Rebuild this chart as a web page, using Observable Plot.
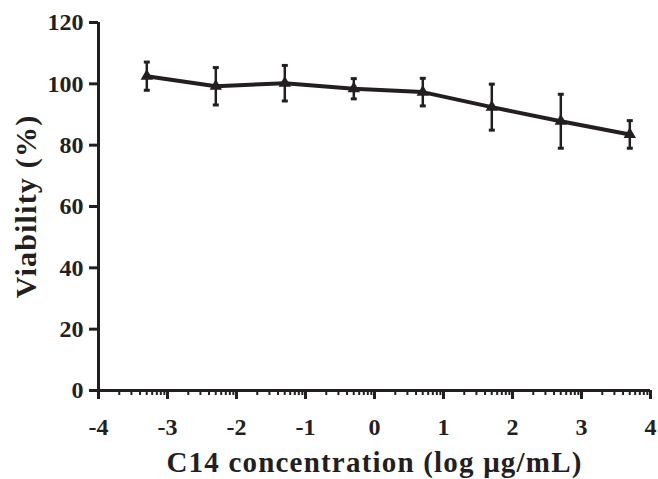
<!DOCTYPE html>
<html>
<head>
<meta charset="utf-8">
<script src="https://cdn.jsdelivr.net/npm/d3@7"></script>
<script src="https://cdn.jsdelivr.net/npm/@observablehq/plot@0.6"></script>
<style>
  html, body { margin: 0; padding: 0; background: #fff; }
</style>
</head>
<body>
<div id="chart"></div>
<script>
// log10 concentration (µg/mL)
const logConc = [-3.3, -2.3, -1.3, -0.3, 0.7, 1.7, 2.7, 3.7];
const viability = [102.5, 99.2, 100.2, 98.4, 97.3, 92.4, 87.8, 83.5];
const errorSD = [4.6, 6.1, 5.8, 3.3, 4.5, 7.5, 8.8, 4.5];

const xMajorTicks = [-4, -3, -2, -1, 0, 1, 2, 3, 4];
const yTicks = [0, 20, 40, 60, 80, 100, 120];
const xLabel = "C14 concentration (log μg/mL)";
const yLabel = "Viability (%)";

const data = logConc.map((x, i) => ({x, y: viability[i], lo: viability[i] - errorSD[i], hi: viability[i] + errorSD[i]}));

// minor log ticks inside each decade
const xMinorTicks = [];
for (let k = -4; k < 4; k++) for (let m = 2; m <= 9; m++) xMinorTicks.push(k + Math.log10(m));

const capSymbol = {
  draw(context) {
    context.moveTo(-3, 0);
    context.lineTo(3, 0);
  }
};

const ink = "#231f20";

const chart = Plot.plot({
  width: 658,
  height: 479,
  marginLeft: 98,
  marginRight: 8,
  marginTop: 22,
  marginBottom: 89,
  style: {fontFamily: "'Liberation Serif', 'Times New Roman', serif", fontWeight: "bold", background: "#fff", color: ink},
  x: {domain: [-4, 4]},
  y: {domain: [0, 120]},
  marks: [
    Plot.axisY({ticks: yTicks, tickSize: 9, tickPadding: 6, fontSize: 24, strokeWidth: 3, label: null}),
    Plot.axisX({ticks: xMinorTicks, tickSize: 5, strokeWidth: 2, tickFormat: () => "", label: null}),
    Plot.axisX({ticks: xMajorTicks, tickSize: 9, tickPadding: 18, fontSize: 24, strokeWidth: 3, label: null, tickFormat: d => d < 0 ? "-" + Math.abs(d) : String(d)}),
    Plot.ruleY([0], {strokeWidth: 3, stroke: ink}),
    Plot.ruleX([-4], {strokeWidth: 3, stroke: ink}),
    Plot.ruleX(data, {x: "x", y1: "lo", y2: "hi", strokeWidth: 2.5, stroke: ink}),
    Plot.dot(data, {x: "x", y: "lo", symbol: capSymbol, fill: "none", stroke: ink, strokeWidth: 3}),
    Plot.dot(data, {x: "x", y: "hi", symbol: capSymbol, fill: "none", stroke: ink, strokeWidth: 3}),
    Plot.line(data, {x: "x", y: "y", strokeWidth: 4, stroke: ink}),
    Plot.dot(data, {x: "x", y: "y", symbol: "triangle", r: 4.6, fill: ink, stroke: "none"}),
    Plot.text([yLabel], {frameAnchor: "left", textAnchor: "middle", lineAnchor: "middle", rotate: -90, dx: -72, fontSize: 30, fontWeight: "bold", fill: ink}),
    Plot.text([xLabel], {frameAnchor: "bottom", textAnchor: "middle", lineAnchor: "middle", dy: 72, fontSize: 29, fontWeight: "bold", fill: ink})
  ]
});
document.getElementById("chart").appendChild(chart);
// slightly spaced lettering of the axis titles, as in the reference
d3.select(chart).selectAll("text").filter(function() {
  const t = this.textContent;
  return t === xLabel || t === yLabel;
}).style("letter-spacing", "1.2px");
</script>
</body>
</html>
